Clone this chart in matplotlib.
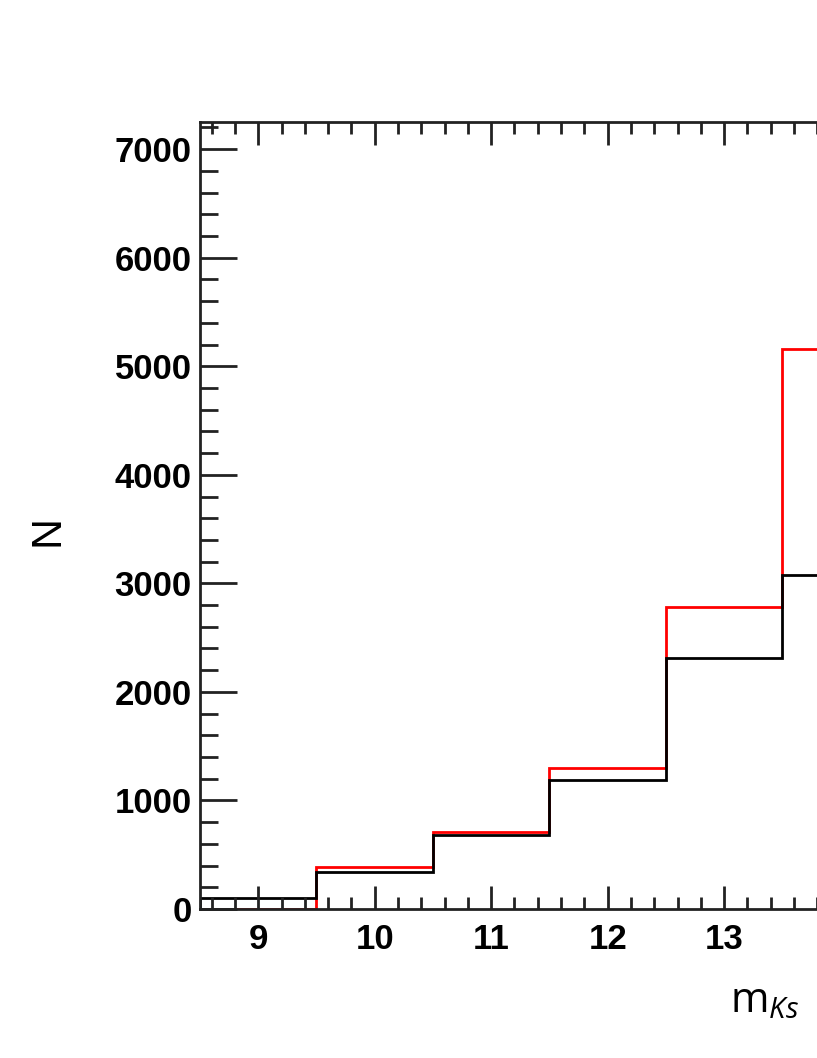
import matplotlib.pyplot as plt
from matplotlib.ticker import MultipleLocator

plt.rcParams['font.family'] = ['Liberation Sans', 'DejaVu Sans']
plt.rcParams['mathtext.fontset'] = 'custom'
plt.rcParams['mathtext.it'] = 'Open Sans:italic'
plt.rcParams['mathtext.rm'] = 'Open Sans'

# magnitude bins and counts
bin_edges = [8.5, 9.5, 10.5, 11.5, 12.5, 13.5, 14.5]
counts_red = [0, 390, 712, 1300, 2780, 5155]
counts_black = [100, 338, 681, 1190, 2310, 3075]

x_ticks = [9, 10, 11, 12, 13, 14]
x_labels = ['9', '10', '11', '12', '13', '']  # 14 falls outside the cropped picture
y_ticks = [0, 1000, 2000, 3000, 4000, 5000, 6000, 7000]

fig = plt.figure(figsize=(8.17, 10.58), dpi=100)
# the frame runs off the right edge of the picture, like the original crop
ax = fig.add_axes([0.2448, 0.1408, 0.9266, 0.7439])

ax.stairs(counts_red, bin_edges, color='red', linewidth=2)
ax.stairs(counts_black, bin_edges, color='black', linewidth=2)

ax.set_xlim(8.5, 15.0)
ax.set_ylim(0, 7250)

ax.set_xticks(x_ticks, labels=x_labels, fontsize=25, fontweight='bold')
ax.set_yticks(y_ticks, labels=[str(t) for t in y_ticks], fontsize=25, fontweight='bold')
ax.xaxis.set_minor_locator(MultipleLocator(0.2))
ax.yaxis.set_minor_locator(MultipleLocator(200))

ax.tick_params(which='both', direction='in', top=True, width=2, color='#222222')
ax.tick_params(axis='x', which='major', length=16.5, pad=10)
ax.tick_params(axis='x', which='minor', length=8.6)
ax.tick_params(axis='y', which='major', length=26.6, pad=6)
ax.tick_params(axis='y', which='minor', length=13)

for s in ax.spines.values():
    s.set_linewidth(2)
    s.set_color('#222222')

fig.text(47 / 817, 1 - 530 / 1058, 'N', rotation=90, fontsize=31,
         ha='center', va='center')
fig.text(730 / 817, 1 - 1012 / 1058, r'm$_{\mathit{Ks}}$', fontsize=30,
         family='Open Sans', ha='left', va='baseline')

fig.savefig('out.png', dpi=100)
